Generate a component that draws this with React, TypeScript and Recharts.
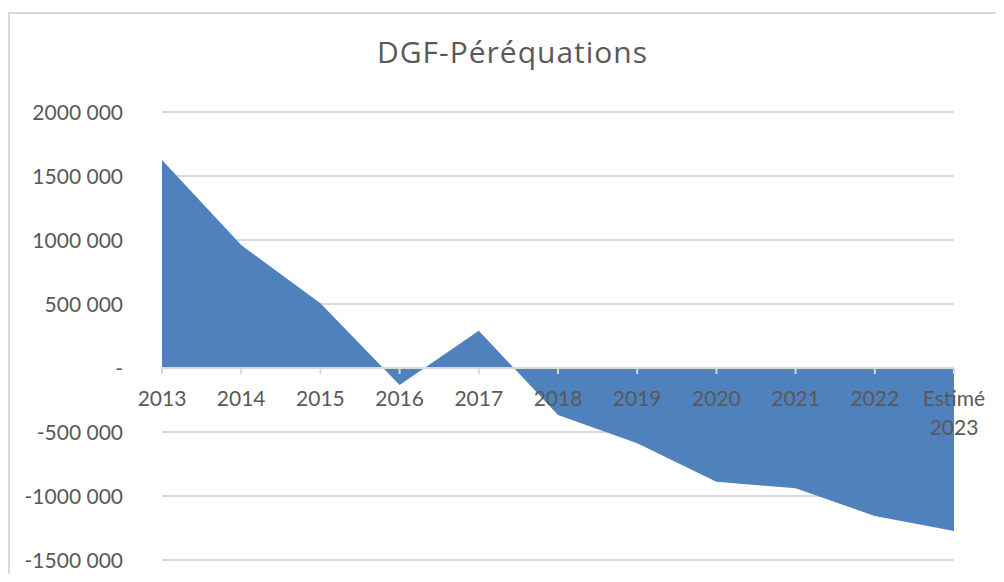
import React from 'react';
import { AreaChart, Area, XAxis, YAxis, CartesianGrid, ReferenceLine } from 'recharts';

const title = 'DGF-Péréquations';
const years = ['2013', '2014', '2015', '2016', '2017', '2018', '2019', '2020', '2021', '2022', 'Estimé 2023'];
const values = [1625000, 960000, 505000, -133000, 291000, -367000, -588000, -888000, -940000, -1156000, -1273000];
const yTicks = [-1500000, -1000000, -500000, 0, 500000, 1000000, 1500000, 2000000];

const data = years.map((year, i) => ({ year, value: values[i] }));

const W = 986;
const H = 564;
const X_AXIS_H = 18;
const M = { top: 98, right: 42, bottom: 0, left: 0 };
const Y_AXIS_W = 152;
const yMax = Math.max(...yTicks);
const yMin = Math.min(...yTicks);
const plotH = H - M.top - M.bottom - X_AXIS_H;
const zeroY = M.top + (plotH * yMax) / (yMax - yMin);

const FONT = 'Lato, "Open Sans", sans-serif';
const TITLE_FONT = '"Open Sans", sans-serif';
const TEXT = '#595959';
const GRID = '#d9d9d9';
const FILL = '#4f81bd';

const fmt = (v: number) => {
  if (v === 0) return '-';
  const a = Math.abs(v);
  const th = Math.floor(a / 1000);
  const r = a % 1000;
  return (v < 0 ? '-' : '') + th + ' ' + String(r).padStart(3, '0');
};

const XTick = (props: any) => {
  const { x, payload } = props;
  const lines = String(payload.value).split(' ');
  return (
    <g>
      <line x1={x} x2={x} y1={zeroY} y2={zeroY + 6} stroke={GRID} strokeWidth={2} />
      <text x={x} y={zeroY + 30} textAnchor="middle" fill={TEXT} fontSize={21} fontFamily={FONT}>
        {lines.map((l, i) => (
          <tspan key={i} x={x} dy={i === 0 ? '0.36em' : '1.38em'}>
            {l}
          </tspan>
        ))}
      </text>
    </g>
  );
};

const YTick = (props: any) => {
  const { x, y, payload } = props;
  return (
    <text x={x} y={y} dy="0.36em" textAnchor="end" fill={TEXT} fontSize={21} fontFamily={FONT}>
      {fmt(payload.value)}
    </text>
  );
};

export default function App() {
  return (
    <div
      style={{
        position: 'relative',
        top: 4,
        width: 988,
        height: 566,
        boxSizing: 'border-box',
        borderLeft: `2px solid ${GRID}`,
        borderTop: `2px solid ${GRID}`,
        background: '#fff',
      }}
    >
      <div
        style={{
          position: 'absolute',
          left: 0,
          top: 20,
          width: 1005,
          textAlign: 'center',
          fontFamily: TITLE_FONT,
          fontSize: 30,
          letterSpacing: 1,
          color: TEXT,
          lineHeight: 1.2,
          whiteSpace: 'nowrap',
        }}
      >
        {title}
      </div>
      <AreaChart width={W} height={H} data={data} margin={M}>
        <CartesianGrid horizontal vertical={false} stroke={GRID} strokeWidth={2} />
        <Area
          type="linear"
          dataKey="value"
          baseValue={0}
          stroke="none"
          fill={FILL}
          fillOpacity={1}
          isAnimationActive={false}
          dot={false}
          activeDot={false}
        />
        <ReferenceLine y={0} stroke={GRID} strokeWidth={2} />
        <XAxis
          dataKey="year"
          height={X_AXIS_H}
          axisLine={false}
          tickLine={false}
          interval={0}
          tick={<XTick />}
        />
        <YAxis
          width={Y_AXIS_W}
          domain={[yMin, yMax]}
          ticks={yTicks}
          axisLine={false}
          tickLine={false}
          tickMargin={33}
          tick={<YTick />}
          interval={0}
        />
      </AreaChart>
    </div>
  );
}
